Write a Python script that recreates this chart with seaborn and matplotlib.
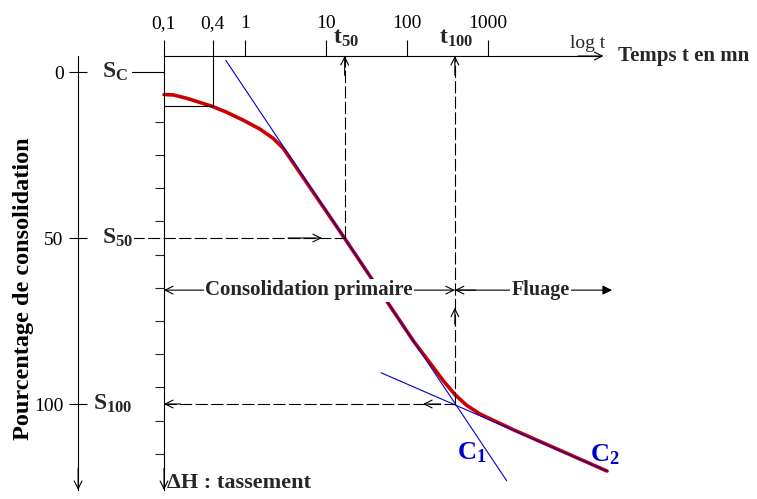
import numpy as np
import seaborn as sns
import matplotlib.pyplot as plt
from matplotlib.transforms import blended_transform_factory

# courbe de consolidation : temps (mn) / tassement (%)
curve_t = [0.1, 0.13, 0.19, 0.28, 0.39, 0.59, 0.95, 1.53, 2.23, 2.97, 17, 120, 192, 281, 392,
           546, 794, 1160, 2040, 29500]
curve_s = [6.8, 6.9, 7.9, 9.2, 10.3, 12.1, 14.5, 17.2, 20.0, 23.0, 50.1, 81.0, 87.6, 93.0, 97.2,
           100.4, 103.0, 104.9, 107.7, 120.2]

# tangentes C1 (consolidation primaire) et C2 (fluage)
c1_t = [0.58, 1700]
c1_s = [-3.5, 123.1]
c2_t = [48, 29500]
c2_s = [90.6, 120.2]

time_ticks = [0.1, 0.4, 1, 10, 100, 1000]
time_labels = ['0,1', '0,4', '1', '10', '100', '1000']
pct_ticks = [0, 50, 100]
minor_ticks = list(range(15, 120, 10))

t50, t100 = 17, 390
s_c, s50, s100 = 0, 50, 100
t_box, s_box = 0.4, 10.2
s_arrows = 65.7

sns.set_theme(style='white')
plt.rcParams['font.family'] = ['Liberation Serif', 'DejaVu Serif']
plt.rcParams['mathtext.fontset'] = 'custom'
plt.rcParams['mathtext.rm'] = 'Liberation Serif'
plt.rcParams['mathtext.bf'] = 'Liberation Serif:bold'
plt.rcParams['mathtext.it'] = 'Liberation Serif:italic'

fig = plt.figure(figsize=(7.57, 4.99), dpi=100)
ax = fig.add_axes([164 / 757, 1 - 490 / 499, 436 / 757, 434 / 499])
ax.set_xscale('log')
ax.set_xlim(0.1, 10 ** 4.383)
ax.set_ylim(125.9, -4.82)

red = '#cc0000'
blue = '#0000cc'
sns.lineplot(x=curve_t, y=curve_s, ax=ax, color=red, lw=2.6, estimator=None, sort=False, clip_on=False)
sns.lineplot(x=c1_t, y=c1_s, ax=ax, color=blue, lw=0.8, estimator=None, sort=False, clip_on=False)
sns.lineplot(x=c2_t, y=c2_s, ax=ax, color=blue, lw=0.8, estimator=None, sort=False, clip_on=False)
ax.set_xlim(0.1, 10 ** 4.383)
ax.set_ylim(125.9, -4.82)
top = ax.get_ylim()[1]


def t_frac(f):
    lo, hi = np.log10(ax.get_xlim())
    return 10 ** (lo + f * (hi - lo))


# axes
for side in ['right', 'bottom']:
    ax.spines[side].set_visible(False)
for side in ['top', 'left']:
    ax.spines[side].set_color('black')
    ax.spines[side].set_linewidth(0.8)
ax.xaxis.set_ticks_position('top')
ax.set_xticks(time_ticks)
ax.set_xticklabels(time_labels)
ax.xaxis.set_minor_locator(plt.NullLocator())
ax.tick_params(axis='x', direction='out', length=11.5, width=0.8, pad=6, labelsize=14, colors='black')
ax.set_yticks(minor_ticks)
ax.set_yticklabels([])
ax.tick_params(axis='y', direction='out', length=6.5, width=0.8, left=True)
ax.grid(False)

sec = ax.secondary_yaxis(-0.197)
sec.set_yticks(pct_ticks)
sec.set_yticklabels([str(v) for v in pct_ticks])
sec.spines['left'].set_color('black')
sec.spines['left'].set_linewidth(0.8)
sec.tick_params(direction='inout', length=13, width=0.8, labelsize=14, pad=4, colors='black')

arrow = dict(arrowstyle='->', lw=0.8, color='black', mutation_scale=14, shrinkA=0, shrinkB=0)
ax.annotate('', xy=(1.008, 1), xytext=(0.95, 1), xycoords='axes fraction', arrowprops=arrow,
            annotation_clip=False)
ax.annotate('', xy=(0, 0), xytext=(0, 0.05), xycoords='axes fraction', arrowprops=arrow,
            annotation_clip=False)
ax.annotate('', xy=(-0.197, 0), xytext=(-0.197, 0.05), xycoords='axes fraction', arrowprops=arrow,
            annotation_clip=False)

ax.set_ylabel('Pourcentage de consolidation', fontsize=17.5, fontweight='bold', color='black')
ax.yaxis.set_label_coords(-0.298, 0.465)
ax.text(1.041, 1.0, 'Temps t en mn', transform=ax.transAxes, fontsize=15, fontweight='bold',
        ha='left', va='center')
ax.annotate('log t', xy=(0.972, 1), xycoords='axes fraction', xytext=(0, 3), textcoords='offset points',
            fontsize=14, ha='center', va='bottom')
ax.text(0.008, 0.016, 'ΔH : tassement', transform=ax.transAxes, fontsize=16,
        fontweight='bold', ha='left', va='center')

# constructions
k = dict(color='black', lw=0.8, clip_on=False)
dash = (0, (11, 3))
ax.plot([t_box, t_box, 0.1], [top, s_box, s_box], **k)
ax.plot([t_frac(-0.073), 0.1], [s_c, s_c], **k)
ax.plot([t_frac(-0.073), t50], [s50, s50], ls=dash, **k)
ax.plot([t50, t50], [s50, top], ls=dash, **k)
ax.plot([0.1, t100], [s100, s100], ls=dash, **k)
ax.plot([t100, t100], [s100, top], ls=dash, **k)

ax.annotate('', xy=(8.9, s50), xytext=(3.4, s50), arrowprops=arrow)
ax.annotate('', xy=(t50, top), xytext=(t50, 1), arrowprops=arrow, annotation_clip=False)
ax.annotate('', xy=(t100, top), xytext=(t100, 1), arrowprops=arrow, annotation_clip=False)
ax.annotate('', xy=(t100, 71), xytext=(t100, 76), arrowprops=arrow)
ax.annotate('', xy=(0.1, s100), xytext=(0.16, s100), arrowprops=arrow, annotation_clip=False)
ax.annotate('', xy=(158, s100), xytext=(260, s100), arrowprops=arrow)

ax.annotate('', xy=(0.1, s_arrows), xytext=(t100, s_arrows), annotation_clip=False,
            arrowprops=dict(arrowstyle='<->', lw=0.8, color='black', mutation_scale=14, shrinkA=0, shrinkB=0))
ax.annotate('', xy=(t_frac(1.0275), s_arrows), xytext=(t100, s_arrows), annotation_clip=False,
            arrowprops=dict(arrowstyle='-|>', lw=0.8, color='black', mutation_scale=14, shrinkA=0, shrinkB=0))
ax.annotate('', xy=(t100, s_arrows), xytext=(700, s_arrows), arrowprops=arrow)
ax.text(6.2, s_arrows, 'Consolidation primaire', fontsize=15, fontweight='bold', ha='center', va='center',
        bbox=dict(fc='white', ec='none', pad=1))
ax.text(4500, s_arrows, 'Fluage', fontsize=14.5, fontweight='bold', ha='center', va='center',
        bbox=dict(fc='white', ec='none', pad=1))

# labels S et t
trans = blended_transform_factory(ax.transAxes, ax.transData)
for val, lab, x in [(s_c, r'$\mathbf{S_C}$', -0.142), (s50, r'$\mathbf{S_{50}}$', -0.142),
                    (s100, r'$\mathbf{S_{100}}$', -0.163)]:
    ax.text(x, val, lab, transform=trans, fontsize=17, ha='left', va='center',
            bbox=dict(fc='white', ec='none', pad=0.5))
for val, lab in [(t50, r'$\mathbf{t_{50}}$'), (t100, r'$\mathbf{t_{100}}$')]:
    ax.annotate(lab, xy=(val, 1), xycoords=('data', 'axes fraction'), xytext=(1, 5),
                textcoords='offset points', fontsize=17, ha='center', va='bottom')

ax.text(630, 114.8, r'$\mathbf{C_1}$', fontsize=19, color=blue, ha='center', va='center')
ax.text(27500, 115.4, r'$\mathbf{C_2}$', fontsize=19, color=blue, ha='center', va='center')

fig.savefig('out.png', dpi=100)
